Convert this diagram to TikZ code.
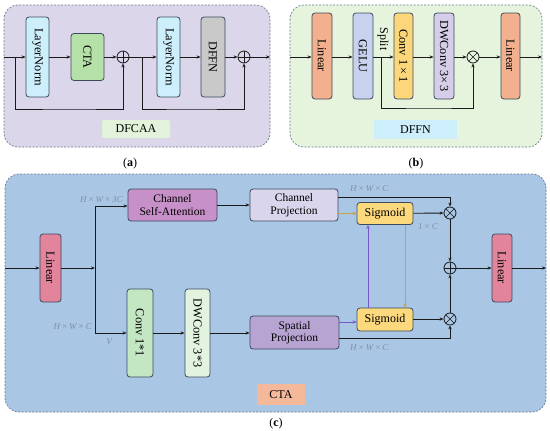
\documentclass[tikz,border=0pt]{standalone}
\usepackage{fontspec}
\setmainfont{Liberation Serif}
\usetikzlibrary{arrows.meta}
\definecolor{lc}{HTML}{1A1A1A}
\definecolor{bl}{HTML}{3C4A5E}
\definecolor{frm}{HTML}{6E7A8E}
\definecolor{pa}{HTML}{DCD6EA}
\definecolor{pb}{HTML}{E6F4DD}
\definecolor{pc}{HTML}{A9C6E4}
\definecolor{lnc}{HTML}{CDEEFB}
\definecolor{ctac}{HTML}{B5E0A8}
\definecolor{dffnc}{HTML}{C9C9C9}
\definecolor{lab1}{HTML}{E3F2DA}
\definecolor{linb}{HTML}{F3B08E}
\definecolor{geluc}{HTML}{C6D2EE}
\definecolor{convy}{HTML}{FCD67A}
\definecolor{dwb}{HTML}{D6CDE8}
\definecolor{linc}{HTML}{E2849B}
\definecolor{csac}{HTML}{C890C9}
\definecolor{cpc}{HTML}{D9D5EC}
\definecolor{sigc}{HTML}{FCD97C}
\definecolor{convg}{HTML}{C3E6C3}
\definecolor{dwg}{HTML}{E2F3DF}
\definecolor{spc}{HTML}{B8A4D3}
\definecolor{ctal}{HTML}{F4B99B}
\definecolor{purp}{HTML}{7656C8}
\definecolor{gold}{HTML}{C8A23C}
\definecolor{gtxt}{HTML}{7F8FA3}
\tikzset{
  panel/.style={draw=frm, line width=0.7, dash pattern=on 2pt off 1.5pt, rounded corners=14},
  box/.style={draw=bl, line width=0.8, rounded corners=3, inner sep=0, align=center, font=\fontsize{11.5}{12.5}\selectfont},
  vbox/.style={box, font=\fontsize{12.3}{13}\selectfont},
  tag/.style={inner sep=0, font=\fontsize{12}{13}\selectfont},
  arr/.style={-{Stealth[length=4,width=3.2]}, line width=0.9, draw=lc},
  ln/.style={line width=0.9, draw=lc},
  gl/.style={inner sep=0, text=gtxt, font=\fontsize{9}{10}\selectfont\itshape},
  oplus/.style={circle, draw=lc, line width=0.8, minimum size=12, inner sep=0,
    path picture={\draw[line width=0.7] (path picture bounding box.north) -- (path picture bounding box.south) (path picture bounding box.west) -- (path picture bounding box.east);}},
  otimes/.style={circle, draw=lc, line width=0.8, minimum size=12, inner sep=0,
    path picture={\draw[line width=0.7] (path picture bounding box.north west) -- (path picture bounding box.south east) (path picture bounding box.north east) -- (path picture bounding box.south west);}},
}
\begin{document}
\begin{tikzpicture}[x=1pt,y=-1pt]
\useasboundingbox (0,0) rectangle (550,431);
% ---------- panel (a)
\draw[panel, fill=pa] (4,5) rectangle (270,147);
\node[vbox, fill=lnc, minimum width=23, minimum height=80] (ln1) at (37.5,57) {\rotatebox{-90}{LayerNorm}};
\node[vbox, fill=ctac, minimum width=33, minimum height=47] (cta) at (87.5,57) {\rotatebox{-90}{CTA}};
\node[oplus] (p1) at (123,57) {};
\node[vbox, fill=lnc, minimum width=23, minimum height=80] (ln2) at (168.5,57) {\rotatebox{-90}{LayerNorm}};
\node[vbox, fill=dffnc, minimum width=24, minimum height=80] (dffn) at (213,57) {\rotatebox{-90}{DFFN}};
\node[oplus] (p2) at (244,57) {};
\coordinate (ain) at (4,57);
\coordinate (aout) at (270,57);
\coordinate (s1) at (15,57);
\coordinate (s2) at (142,57);
\draw[arr] (ain) -- (ln1);
\draw[arr] (ln1) -- (cta);
\draw[arr] (cta) -- (p1);
\draw[arr] (p1) -- (ln2);
\draw[arr] (ln2) -- (dffn);
\draw[arr] (dffn) -- (p2);
\draw[arr] (p2) -- (aout);
\draw[arr] (s1) |- (69,109) -| (p1.south);
\draw[arr] (s2) |- (190,109) -| (p2.south);
\node[box, draw=none, rounded corners=2, fill=lab1, minimum width=68, minimum height=18, font=\fontsize{12}{13}\selectfont] (lab1) at (136,129) {DFCAA};
\node[tag] (capa) at (130,164) {(\textbf{a})};
% ---------- panel (b)
\draw[panel, fill=pb] (290,5) rectangle (542,147);
\node[vbox, fill=linb, minimum width=20, minimum height=86] (lb1) at (322,56) {\rotatebox{-90}{Linear}};
\node[vbox, fill=geluc, minimum width=20, minimum height=86] (gelu) at (363,56) {\rotatebox{-90}{GELU}};
\node[vbox, fill=convy, minimum width=19, minimum height=86] (c11) at (403.5,56) {\rotatebox{-90}{Conv 1\,×\,1}};
\node[vbox, fill=dwb, minimum width=20, minimum height=86] (dw33) at (444,56) {\rotatebox{-90}{DWConv 3×\,3}};
\node[otimes] (t0) at (473,57) {};
\node[vbox, fill=linb, minimum width=19, minimum height=86] (lb2) at (510.5,56) {\rotatebox{-90}{Linear}};
\node[tag, rotate=-90] (split) at (383,39) {Split};
\coordinate (bin) at (290,57);
\coordinate (bout) at (542,57);
\coordinate (sp0) at (381,57);
\draw[arr] (bin) -- (lb1.west|-bin);
\draw[arr] (lb1.east|-bin) -- (gelu.west|-bin);
\draw[arr] (gelu.east|-bin) -- (c11.west|-bin);
\draw[arr] (c11.east|-bin) -- (dw33.west|-bin);
\draw[arr] (dw33.east|-bin) -- (t0);
\draw[arr] (t0) -- (lb2.west|-bin);
\draw[arr] (lb2.east|-bin) -- (bout);
\draw[arr] (sp0) |- (430,108) -| (t0.south);
\node[box, draw=none, rounded corners=0, fill=lnc, minimum width=83, minimum height=19, font=\fontsize{12}{13}\selectfont] (lab2) at (415.5,129.5) {DFFN};
\node[tag] (capb) at (416,164) {(\textbf{b})};
% ---------- panel (c)
\draw[panel, fill=pc] (5,174) rectangle (546,412);
\node[vbox, fill=linc, minimum width=21, minimum height=68] (lc1) at (50.5,268) {\rotatebox{-90}{Linear}};
\node[box, fill=csac, minimum width=89, minimum height=32] (csa) at (172.5,205) {Channel\\Self-Attention};
\node[box, fill=cpc, minimum width=88, minimum height=32] (cp) at (294,205) {Channel\\Projection};
\node[box, fill=sigc, minimum width=56, minimum height=22, font=\fontsize{12}{13}\selectfont] (sig1) at (385,213.5) {Sigmoid};
\node[otimes] (t1) at (450,213) {};
\node[oplus] (pl) at (450,268) {};
\node[otimes] (t2) at (450,319) {};
\node[vbox, fill=linc, minimum width=20, minimum height=68] (lc2) at (502,268) {\rotatebox{-90}{Linear}};
\node[vbox, fill=convg, minimum width=26, minimum height=88] (cv) at (140,333) {\rotatebox{-90}{Conv 1*1}};
\node[vbox, fill=dwg, minimum width=25, minimum height=88] (dwc) at (197.5,333) {\rotatebox{-90}{DWConv 3*3}};
\node[box, fill=spc, minimum width=89, minimum height=33] (sp) at (294.5,332.5) {Spatial\\Projection};
\node[box, fill=sigc, minimum width=56, minimum height=23, font=\fontsize{12}{13}\selectfont] (sig2) at (385,319.5) {Sigmoid};
\coordinate (cin) at (5,268);
\coordinate (cout) at (546,268);
\coordinate (vj) at (95,268);
\coordinate (vt) at (95,206);
\coordinate (vb) at (95,333);
\draw[arr] (cin) -- (lc1);
\draw[arr] (lc1) -- (vj);
\draw[ln] (vt) -- (vb);
\draw[arr] (vt) -- (csa.west|-vt);
\draw[arr] (vb) -- (cv.west|-vb);
\draw[arr] (csa) -- (cp);
\draw[arr, draw=gold] (cp.east|-sig1) -- (sig1);
\draw[arr] (cp.east|-0,197) -| (t1.north);
\draw[arr] (sig1) -- (t1);
\draw[arr] (t1) -- (pl);
\draw[arr] (t2) -- (pl);
\draw[arr] (pl) -- (lc2);
\draw[arr] (lc2) -- (cout);
\draw[arr] (cv.east|-vb) -- (dwc.west|-vb);
\draw[arr] (dwc.east|-vb) -- (sp.west|-vb);
\draw[arr, draw=purp] (sp.east|-0,322) -- (sig2.west|-0,322);
\draw[arr] (sig2.east|-t2) -- (t2);
\draw[arr] (sp.east|-0,338) -| (t2.south);
\draw[arr, draw=purp] (sig2.north-|368,0) -- (sig1.south-|368,0);
\draw[arr, draw=gold] (sig1.south-|405,0) -- (sig2.north-|405,0);
\node[gl, anchor=east] (g1) at (123,200) {H\,×\,W\,×\,3C};
\node[gl, anchor=west] (g2) at (350,189) {H\,×\,W\,×\,C};
\node[gl, anchor=west] (g3) at (418,227) {1\,×\,C};
\node[gl, anchor=east] (g4) at (92,327) {H\,×\,W\,×\,C};
\node[gl] (g5) at (109,342) {V};
\node[gl, anchor=west] (g6) at (350,348) {H\,×\,W\,×\,C};
\node[box, draw=none, rounded corners=0, fill=ctal, minimum width=48, minimum height=21, font=\fontsize{12}{13}\selectfont] (lab3) at (281,394.5) {CTA};
\node[tag] (capc) at (276,424) {(\textbf{c})};
\end{tikzpicture}
\end{document}
